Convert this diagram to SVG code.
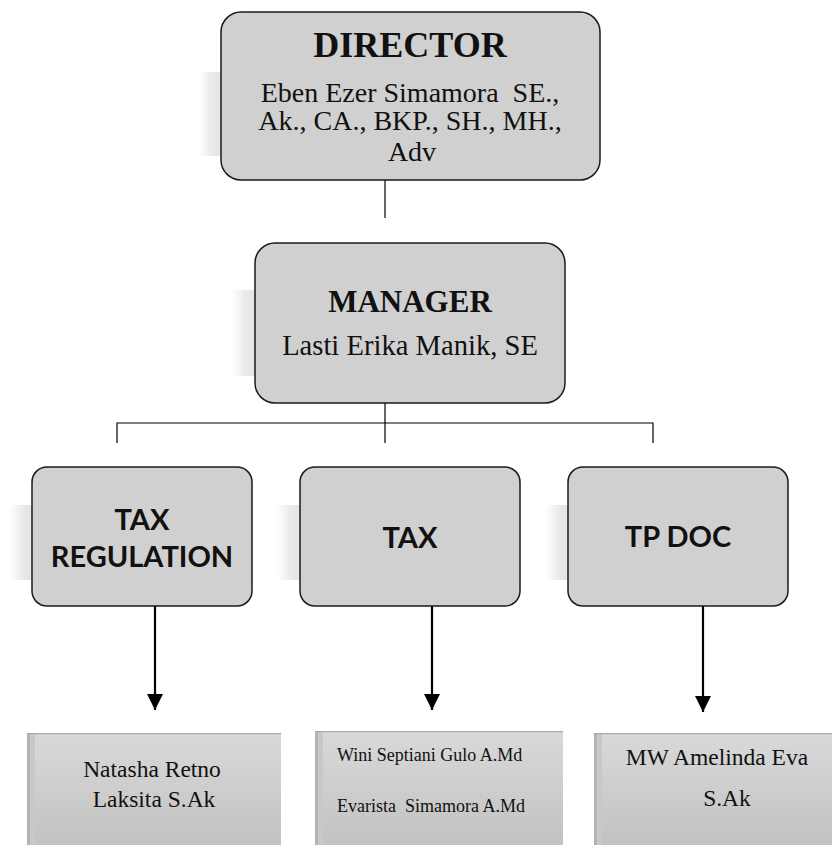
<svg xmlns="http://www.w3.org/2000/svg" width="832" height="850" viewBox="0 0 832 850">
<style>
.box{fill:#d0d0d0;stroke:#1a1a1a;stroke-width:1.5}
.sh{fill:url(#shg)}
.serif{font-family:"Liberation Serif","Times New Roman",serif;fill:#111;white-space:pre}
.sans{font-family:Lato,"Open Sans",sans-serif;font-weight:bold;fill:#111}
.conn{stroke:#000;stroke-width:1.2;fill:none}
.arr{stroke:#000;stroke-width:2.2;fill:none;marker-end:url(#ah)}
.pbox{fill:url(#pg)}
.edge{fill:#b4b4b4}
.edge2{fill:#c8c8c8}
.topl{fill:#a8a8a8}
</style>
<defs>
<linearGradient id="shg" x1="0" y1="0" x2="1" y2="0">
<stop offset="0" stop-color="#f4f4f4" stop-opacity="0"/>
<stop offset="0.5" stop-color="#ebebeb"/>
<stop offset="1" stop-color="#e2e2e2"/>
</linearGradient>
<linearGradient id="pg" x1="0" y1="0" x2="0" y2="1">
<stop offset="0" stop-color="#d9d9d9"/>
<stop offset="1" stop-color="#c2c2c2"/>
</linearGradient>
<marker id="ah" markerUnits="userSpaceOnUse" markerWidth="16" markerHeight="16" viewBox="0 0 16 16" refX="16" refY="8" orient="auto">
<path d="M0,0 L16,8 L0,16 Z" fill="#000"/>
</marker>
</defs>

<g id="connectors">
<line class="conn" x1="385" y1="180" x2="385" y2="218"/>
<line class="conn" x1="385" y1="403" x2="385" y2="443"/>
<polyline class="conn" points="117,443 117,423 653,423 653,443"/>
<line class="arr" x1="155" y1="606" x2="155" y2="710"/>
<line class="arr" x1="432" y1="606" x2="432" y2="710"/>
<line class="arr" x1="703" y1="606" x2="703" y2="712"/>
</g>

<g id="director">
<rect class="sh" x="197" y="72" width="26" height="84"/>
<rect class="box" x="221" y="12" width="379" height="168" rx="20"/>
<text class="serif" x="410" y="57" font-size="36" font-weight="bold" text-anchor="middle">DIRECTOR</text>
<text class="serif" x="410" y="102" font-size="28" text-anchor="middle">Eben Ezer Simamora  SE.,</text>
<text class="serif" x="410" y="130" font-size="28" text-anchor="middle">Ak., CA., BKP., SH., MH.,</text>
<text class="serif" x="412" y="161" font-size="28" text-anchor="middle">Adv</text>
</g>

<g id="manager">
<rect class="sh" x="230" y="290" width="27" height="86"/>
<rect class="box" x="255" y="243" width="310" height="160" rx="20"/>
<text class="serif" x="410" y="312" font-size="31" font-weight="bold" text-anchor="middle">MANAGER</text>
<text class="serif" x="410" y="355" font-size="28.6" text-anchor="middle">Lasti Erika Manik, SE</text>
</g>

<g id="tax-regulation">
<rect class="sh" x="8" y="505" width="26" height="75"/>
<rect class="box" x="32" y="467" width="220" height="139" rx="15"/>
<text class="sans" x="142" y="530" font-size="29" text-anchor="middle">TAX</text>
<text class="sans" x="142" y="567" font-size="29" text-anchor="middle">REGULATION</text>
</g>

<g id="tax">
<rect class="sh" x="276" y="505" width="26" height="75"/>
<rect class="box" x="300" y="467" width="220" height="139" rx="15"/>
<text class="sans" x="410" y="548" font-size="29" text-anchor="middle">TAX</text>
</g>

<g id="tp-doc">
<rect class="sh" x="544" y="505" width="26" height="75"/>
<rect class="box" x="568" y="467" width="220" height="139" rx="15"/>
<text class="sans" x="678" y="547" font-size="29" text-anchor="middle">TP DOC</text>
</g>

<g id="staff-tax-regulation">
<rect class="pbox" x="27" y="733" width="254" height="112"/>
<rect class="edge" x="27" y="733" width="3" height="112"/>
<rect class="edge2" x="30" y="733" width="5" height="112"/>
<rect class="topl" x="27" y="733" width="254" height="1.2"/>
<text class="serif" x="152" y="777" font-size="23.5" text-anchor="middle">Natasha Retno</text>
<text class="serif" x="154" y="807" font-size="23.5" text-anchor="middle">Laksita S.Ak</text>
</g>

<g id="staff-tax">
<rect class="pbox" x="315" y="731" width="248" height="114"/>
<rect class="edge" x="315" y="731" width="3" height="114"/>
<rect class="edge2" x="318" y="731" width="5" height="114"/>
<rect class="topl" x="315" y="731" width="248" height="1.2"/>
<text class="serif" x="337" y="761" font-size="18">Wini Septiani Gulo A.Md</text>
<text class="serif" x="337" y="812" font-size="18">Evarista  Simamora A.Md</text>
</g>

<g id="staff-tp-doc">
<rect class="pbox" x="594" y="733" width="238" height="112"/>
<rect class="edge" x="594" y="733" width="3" height="112"/>
<rect class="edge2" x="597" y="733" width="5" height="112"/>
<rect class="topl" x="594" y="733" width="238" height="1.2"/>
<text class="serif" x="717" y="765" font-size="23.5" text-anchor="middle">MW Amelinda Eva</text>
<text class="serif" x="727" y="806" font-size="23.5" text-anchor="middle">S.Ak</text>
</g>
</svg>
